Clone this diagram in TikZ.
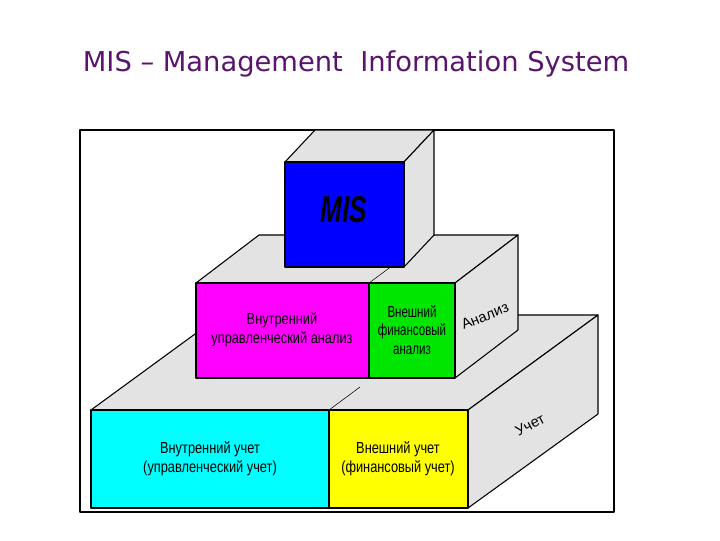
\documentclass[tikz,border=0pt]{standalone}
\usepackage{fontspec}
\setmainfont{Liberation Sans}
\newfontfamily\titlefont{DejaVu Sans}
\definecolor{cy}{RGB}{0,255,255}
\definecolor{mg}{RGB}{255,0,255}
\definecolor{gr}{RGB}{0,230,0}
\definecolor{bl}{RGB}{0,0,255}
\definecolor{yl}{RGB}{255,255,0}
\definecolor{ttl}{RGB}{90,20,110}
\begin{document}
\begin{tikzpicture}[x=0.75pt,y=-0.75pt,line join=round,
  face/.style={draw=black,fill=gray!22,line width=0.8pt},
  front/.style={draw=black,line width=0.8pt},
  lbl/.style={font=\fontsize{12}{14}\selectfont,align=center,xscale=0.8},
  side/.style={font=\fontsize{11}{13}\selectfont,inner sep=0pt}]
\useasboundingbox (0,0) rectangle (720,540);
\node[text=ttl,font=\titlefont\fontsize{20.5}{24}\selectfont] (title) at (356,64) {MIS – Management\ \ Information System};
\draw[line width=0.8pt] (80,130) rectangle (614,512);
% bottom block
\draw[face] (91,410) -- (221,315) -- (598,315) -- (468,410) -- cycle;
\draw[face] (468,410) -- (598,315) -- (598,414) -- (468,508) -- cycle;
\draw[front,fill=cy] (91,410) rectangle (329,508);
\draw[front,fill=yl] (329,410) rectangle (468,508);
\draw[black] (329,410) -- (360,387);
\node[lbl] (c) at (210,459) {Внутренний учет\\(управленческий учет)};
\node[lbl] (y) at (398,459) {Внешний учет\\(финансовый учет)};
\node[side,rotate=28] (u) at (530,425) {Учет};
% middle block
\draw[face] (196,283) -- (259,235) -- (518,235) -- (455,283) -- cycle;
\draw[face] (455,283) -- (518,235) -- (518,330) -- (455,378) -- cycle;
\draw[front,fill=mg] (196,283) rectangle (369,378);
\draw[front,fill=gr] (369,283) rectangle (455,378);
\draw[black] (369,283) -- (400,260);
\node[lbl] (m) at (282,330) {Внутренний\\управленческий анализ};
\node[lbl,xscale=0.9] (g) at (412,330) {Внешний\\финансовый\\анализ};
\node[side,rotate=22] (a) at (485,316) {Анализ};
% top block
\draw[face] (285,162) -- (315,130) -- (434,130) -- (404,162) -- cycle;
\draw[face] (404,162) -- (434,130) -- (434,235) -- (404,267) -- cycle;
\draw[front,fill=bl] (285,162) rectangle (404,267);
\node[font=\bfseries\itshape\fontsize{28}{30}\selectfont,xscale=0.7] (mis) at (344,210) {MIS};
\end{tikzpicture}
\end{document}
